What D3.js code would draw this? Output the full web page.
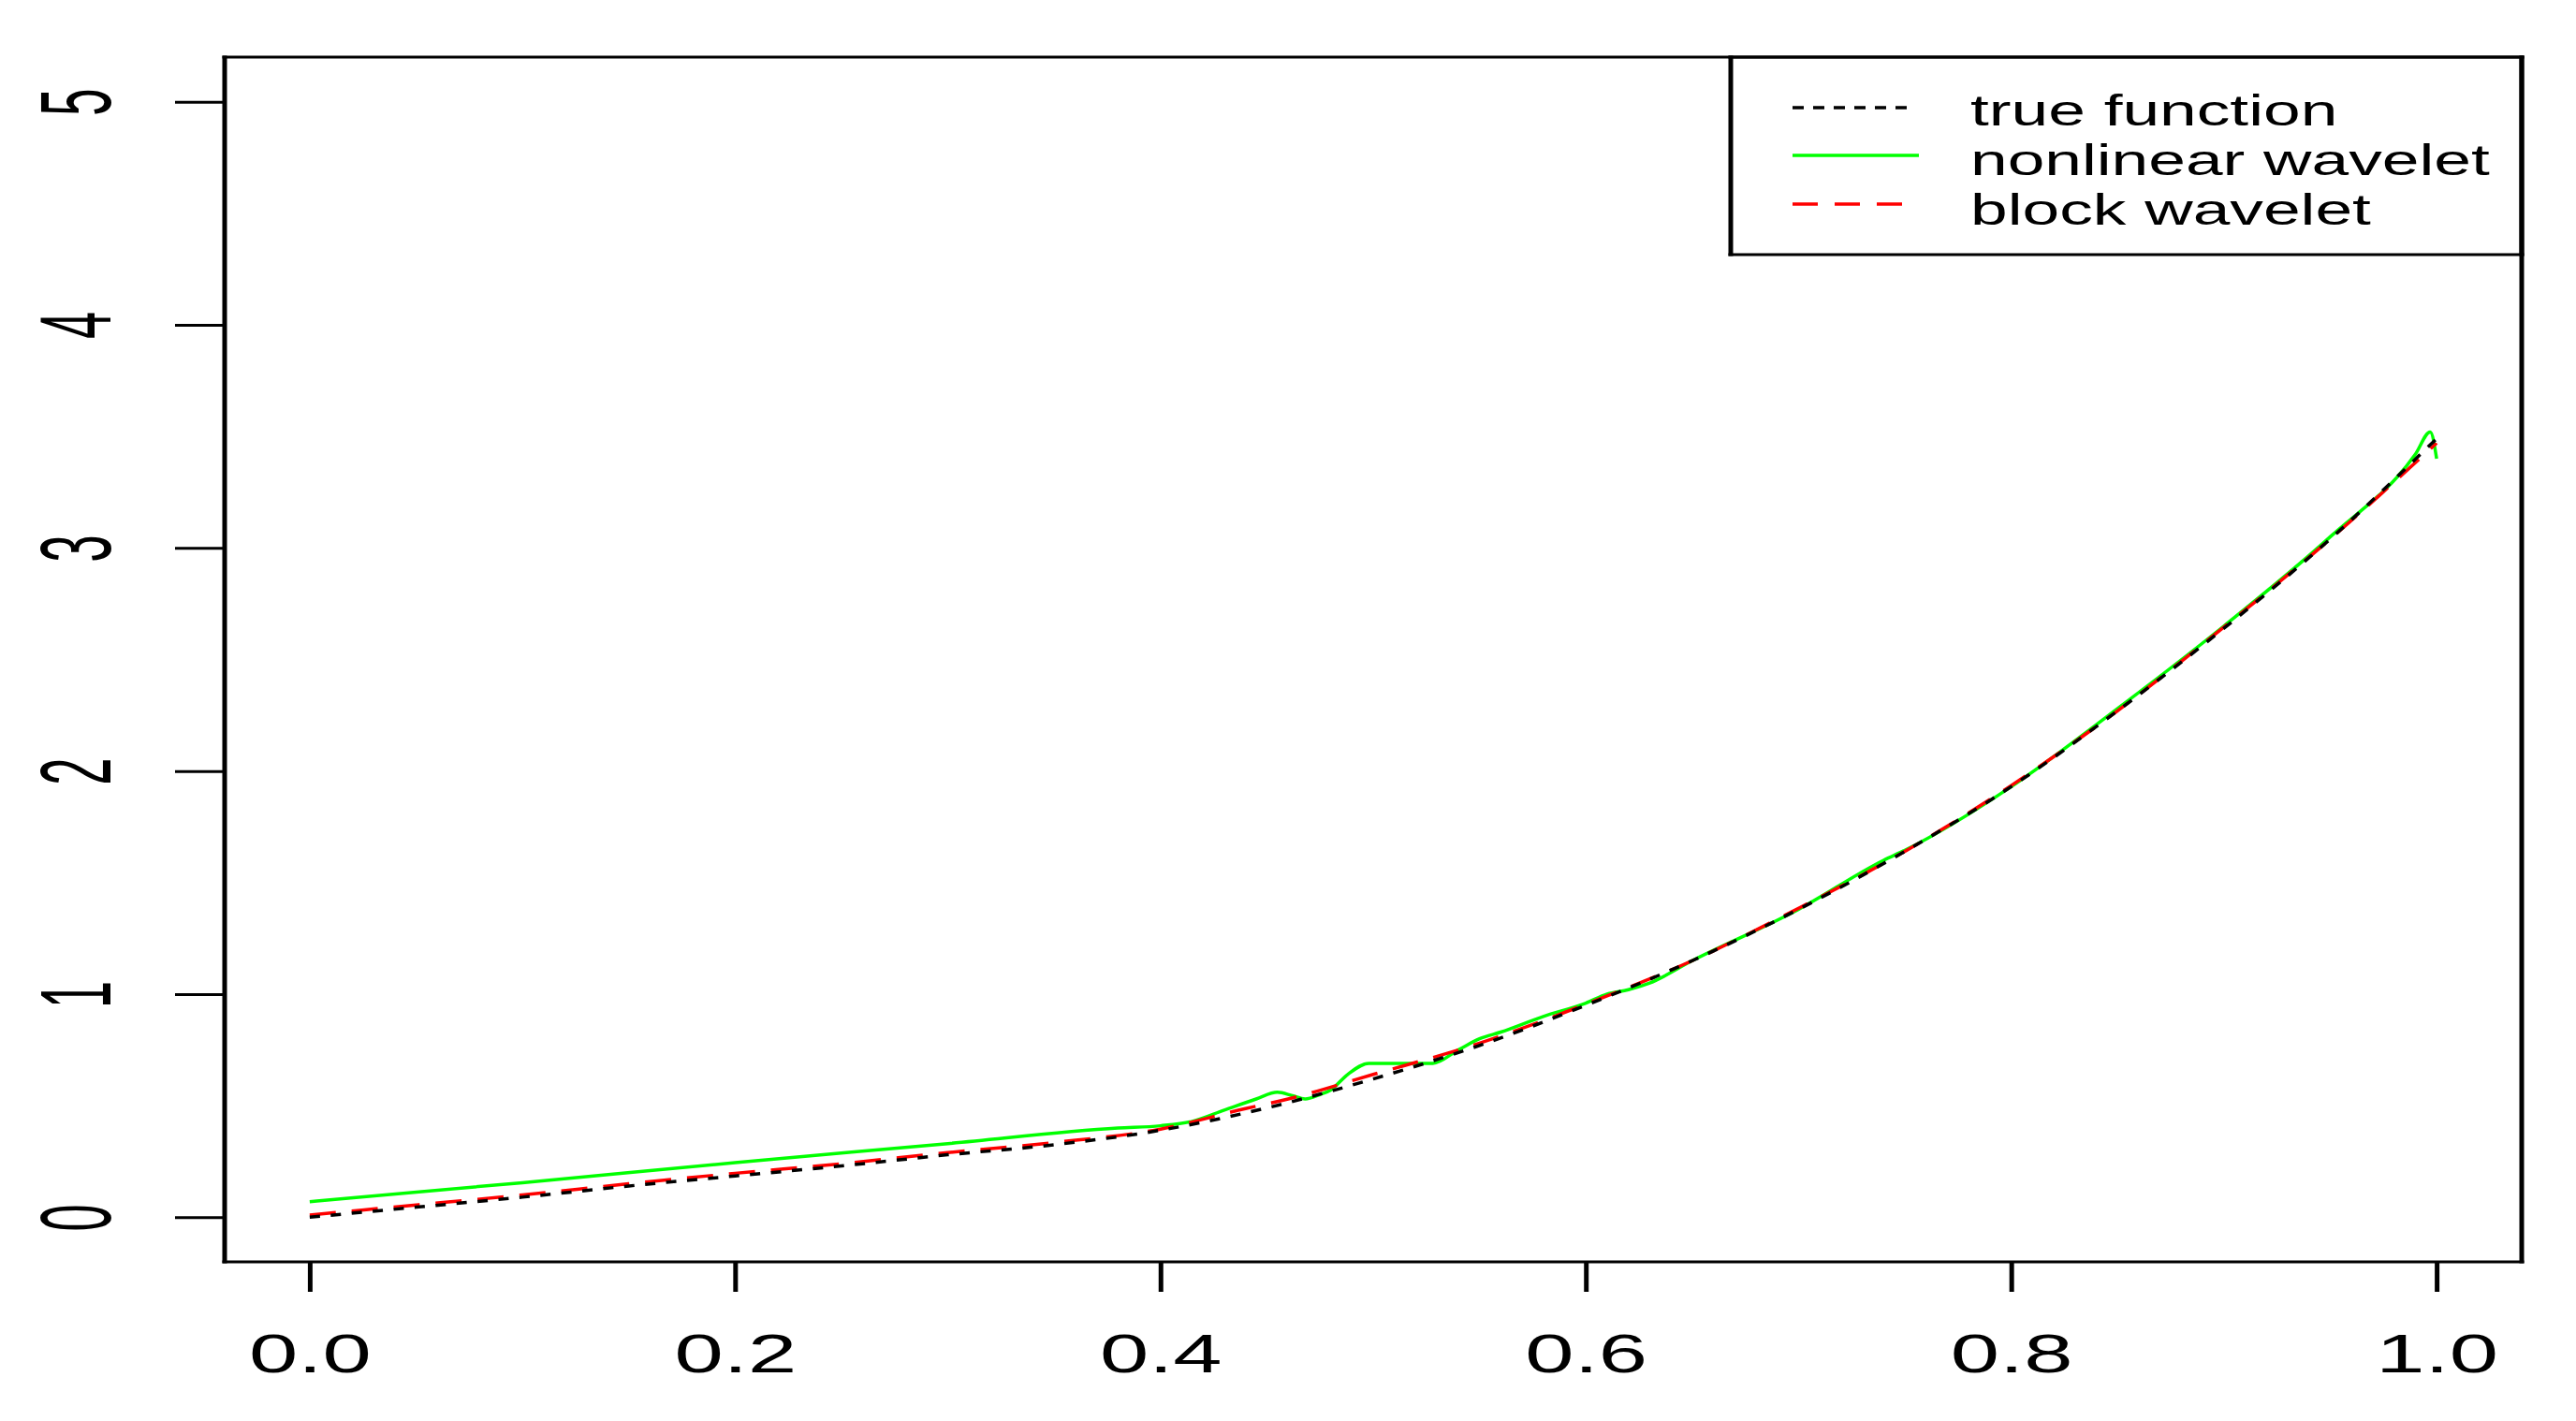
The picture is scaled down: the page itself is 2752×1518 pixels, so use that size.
<!DOCTYPE html>
<html>
<head>
<meta charset="utf-8">
<script src="https://cdn.jsdelivr.net/npm/d3@7"></script>
<style>
  html, body { margin: 0; padding: 0; background: #fff; }
  svg { display: block; }
  text { font-family: "Liberation Sans", Arial, sans-serif; fill: #000; }
</style>
</head>
<body>
<svg id="chart" width="2752" height="1518"></svg>
<script>
// ---- data ----
const xTicks = [0.0, 0.2, 0.4, 0.6, 0.8, 1.0];
const xTickLabels = ["0.0", "0.2", "0.4", "0.6", "0.8", "1.0"];
const yTicks = [0, 1, 2, 3, 4, 5];
const yTickLabels = ["0", "1", "2", "3", "4", "5"];

const seriesNames = ["true function", "nonlinear wavelet", "block wavelet"];

const trueX = [0, 0.05, 0.10, 0.15, 0.20, 0.25, 0.30, 0.35, 0.40, 0.45, 0.50, 0.55, 0.60, 0.65, 0.70, 0.75, 0.80, 0.85, 0.90, 0.95, 1.00];
const trueY = [0.00, 0.045, 0.09, 0.14, 0.185, 0.23, 0.28, 0.325, 0.39, 0.49, 0.62, 0.77, 0.95, 1.15, 1.38, 1.64, 1.93, 2.27, 2.64, 3.04, 3.49];

const nlX = [0, 0.10, 0.20, 0.30, 0.38, 0.40, 0.415, 0.43, 0.445, 0.455, 0.462, 0.468, 0.475, 0.48, 0.488, 0.498, 0.528, 0.54, 0.55, 0.56, 0.58, 0.60, 0.61, 0.62, 0.63, 0.65, 0.70, 0.74, 0.75, 0.80, 0.85, 0.90, 0.95, 0.99, 0.997, 1.00];
const nlY = [0.07, 0.155, 0.245, 0.33, 0.40, 0.41, 0.43, 0.48, 0.53, 0.56, 0.545, 0.53, 0.55, 0.57, 0.64, 0.69, 0.69, 0.75, 0.80, 0.83, 0.90, 0.96, 1.00, 1.02, 1.05, 1.15, 1.38, 1.60, 1.645, 1.93, 2.28, 2.65, 3.05, 3.42, 3.52, 3.40];

const blockX = [0, 0.05, 0.10, 0.15, 0.20, 0.25, 0.30, 0.35, 0.40, 0.44, 0.46, 0.50, 0.55, 0.60, 0.65, 0.70, 0.75, 0.80, 0.85, 0.90, 0.95, 1.00];
const blockY = [0.01, 0.055, 0.10, 0.15, 0.197, 0.24, 0.29, 0.335, 0.395, 0.487, 0.53, 0.64, 0.78, 0.955, 1.15, 1.385, 1.64, 1.935, 2.27, 2.645, 3.04, 3.47];

// ---- layout ----
const svg = d3.select("#chart");
const L = 240, R = 2694, T = 61, B = 1348;

const x = d3.scaleLinear().domain([-0.04, 1.04]).range([L, R]);
const y = d3.scaleLinear().domain([-0.2, 5.2]).range([B, T]);

const zip = (xs, ys) => xs.map((v, i) => [v, ys[i]]);
const line = d3.line().x(d => x(d[0])).y(d => y(d[1])).curve(d3.curveMonotoneX);

// curves
svg.append("path").datum(zip(nlX, nlY))
  .attr("d", line).attr("fill", "none")
  .attr("stroke", "#00ff00").attr("stroke-width", 3.5);
svg.append("path").datum(zip(blockX, blockY))
  .attr("d", line).attr("fill", "none")
  .attr("stroke", "#ff0000").attr("stroke-width", 3.5)
  .attr("stroke-dasharray", "28,17");
svg.append("path").datum(zip(trueX, trueY))
  .attr("d", line).attr("fill", "none")
  .attr("stroke", "#000").attr("stroke-width", 3.5)
  .attr("stroke-dasharray", "11,11.5");

// axes
const xAxis = svg.append("g").attr("transform", `translate(0,${B})`)
  .call(d3.axisBottom(x).tickValues(xTicks).tickSize(32).tickFormat((d, i) => xTickLabels[i]));
xAxis.select(".domain").remove();
xAxis.selectAll(".tick line").attr("stroke", "#000").attr("stroke-width", 5);
xAxis.selectAll(".tick text")
  .attr("y", null).attr("dy", null)
  .attr("text-anchor", "middle")
  .attr("font-size", 57)
  .attr("transform", "translate(0,118) scale(1.65,1)");

const yAxis = svg.append("g").attr("transform", `translate(${L},0)`)
  .call(d3.axisLeft(y).tickValues(yTicks).tickSize(53).tickFormat((d, i) => yTickLabels[i]));
yAxis.select(".domain").remove();
yAxis.selectAll(".tick line").attr("stroke", "#000").attr("stroke-width", 3);
yAxis.selectAll(".tick text")
  .attr("x", null).attr("dy", null)
  .attr("text-anchor", "middle")
  .attr("font-size", 57)
  .attr("transform", `translate(${118 - L},0) rotate(-90) scale(0.92,1.9)`);

// plot box (vertical sides thicker: stretched picture)
function boxLines(g, x0, y0, x1, y1) {
  g.append("line").attr("x1", x0 - 2.5).attr("x2", x1 + 2.5).attr("y1", y0).attr("y2", y0).attr("stroke", "#000").attr("stroke-width", 3);
  g.append("line").attr("x1", x0 - 2.5).attr("x2", x1 + 2.5).attr("y1", y1).attr("y2", y1).attr("stroke", "#000").attr("stroke-width", 3);
  g.append("line").attr("x1", x0).attr("x2", x0).attr("y1", y0 - 1.5).attr("y2", y1 + 1.5).attr("stroke", "#000").attr("stroke-width", 5);
  g.append("line").attr("x1", x1).attr("x2", x1).attr("y1", y0 - 1.5).attr("y2", y1 + 1.5).attr("stroke", "#000").attr("stroke-width", 5);
}

// legend
const leg = svg.append("g");
leg.append("rect").attr("x", 1849).attr("y", T).attr("width", R - 1849).attr("height", 272 - T).attr("fill", "#fff");
boxLines(leg, 1849, T, R, 272);

const legStyles = [
  { color: "#000", dash: "12,10", y: 115, x2: 2045 },
  { color: "#00ff00", dash: null, y: 166, x2: 2050 },
  { color: "#ff0000", dash: "27,18", y: 218, x2: 2035 }
];
const legBase = [134, 187, 240];
seriesNames.forEach((name, i) => {
  const s = legStyles[i];
  leg.append("line").attr("x1", 1915).attr("x2", s.x2).attr("y1", s.y).attr("y2", s.y)
    .attr("stroke", s.color).attr("stroke-width", 3.5)
    .attr("stroke-dasharray", s.dash);
  leg.append("text")
    .attr("transform", `translate(2105,${legBase[i]}) scale(1.55,1)`)
    .attr("font-size", 46)
    .text(name);
});

boxLines(svg.append("g"), L, T, R, B);
</script>
</body>
</html>
